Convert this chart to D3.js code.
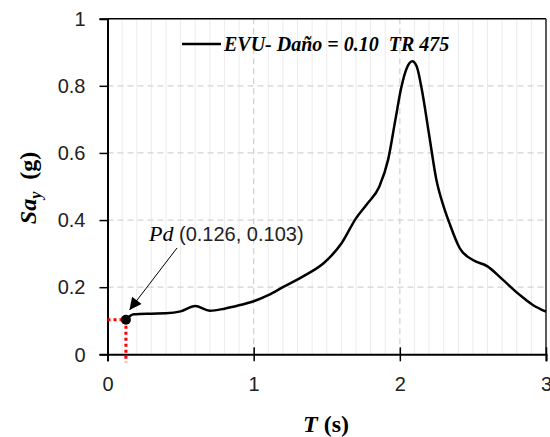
<!DOCTYPE html>
<html><head><meta charset="utf-8">
<script src="https://cdn.jsdelivr.net/npm/d3@7"></script>
<style>
html,body{margin:0;padding:0;background:#fff;}
svg{display:block;}
.sans{font-family:"Liberation Sans",Arial,sans-serif;}
.serif{font-family:"Liberation Serif","Times New Roman",serif;}
</style></head>
<body>
<svg id="chart" width="550" height="437"></svg>
<script>
const periods = [0.126, 0.18, 0.3, 0.4, 0.5, 0.6, 0.7, 0.8, 0.9, 1.0, 1.1, 1.2, 1.35, 1.48, 1.6, 1.7, 1.78, 1.86, 1.92, 1.97, 2.01, 2.05, 2.085, 2.115, 2.15, 2.2, 2.25, 2.3, 2.34, 2.41, 2.5, 2.6, 2.7, 2.82, 2.91, 3.0];
const saValues = [0.103, 0.119, 0.121, 0.122, 0.128, 0.144, 0.130, 0.136, 0.146, 0.158, 0.176, 0.200, 0.235, 0.272, 0.33, 0.405, 0.45, 0.50, 0.58, 0.70, 0.795, 0.855, 0.873, 0.858, 0.79, 0.655, 0.52, 0.44, 0.39, 0.316, 0.281, 0.262, 0.224, 0.177, 0.147, 0.127];
const xTicks = [0, 1, 2, 3];
const yTicks = [0, 0.2, 0.4, 0.6, 0.8, 1];
const pdPoint = [0.126, 0.103];
const legendLabel = "EVU- Daño = 0.10  TR 475";

const svg = d3.select("#chart");
const x = d3.scaleLinear().domain([0, 3]).range([107.5, 546]);
const y = d3.scaleLinear().domain([0, 1]).range([354.3, 18.7]);

// vertical minor gridlines
const minor = d3.range(1, 30).map(i => i / 10).filter(v => Math.abs(v - Math.round(v)) > 1e-6);
svg.append("g").selectAll("line").data(minor).join("line")
  .attr("x1", d => x(d)).attr("x2", d => x(d))
  .attr("y1", y(0)).attr("y2", y(1))
  .attr("stroke", "#ececec").attr("stroke-width", 1);
// vertical major dashed
svg.append("g").selectAll("line").data([1, 2]).join("line")
  .attr("x1", d => x(d)).attr("x2", d => x(d))
  .attr("y1", y(0)).attr("y2", y(1))
  .attr("stroke", "#d4d4d4").attr("stroke-width", 1.3).attr("stroke-dasharray", "6,4");
// horizontal dashed
svg.append("g").selectAll("line").data([0.2, 0.4, 0.6, 0.8]).join("line")
  .attr("x1", x(0)).attr("x2", x(3))
  .attr("y1", d => y(d)).attr("y2", d => y(d))
  .attr("stroke", "#d4d4d4").attr("stroke-width", 1.3).attr("stroke-dasharray", "6,4");

// frame top/right
svg.append("line").attr("x1", x(0)).attr("x2", x(3)).attr("y1", y(1)).attr("y2", y(1))
  .attr("stroke", "#000").attr("stroke-width", 1.5);
svg.append("line").attr("x1", x(3)).attr("x2", x(3)).attr("y1", y(1)).attr("y2", y(0))
  .attr("stroke", "#222").attr("stroke-width", 1.5);

// Y axis
const yAxis = svg.append("g").attr("transform", `translate(${x(0)},0)`)
  .call(d3.axisLeft(y).tickValues(yTicks).tickFormat(d3.format("")).tickSizeOuter(0).tickSize(8).tickPadding(14));
yAxis.attr("font-family", null).attr("font-size", null);
yAxis.select(".domain").attr("stroke-width", 2);
yAxis.selectAll(".tick line").attr("stroke-width", 1.5);
yAxis.selectAll("text").attr("class", "sans").attr("font-size", 20).attr("fill", "#222").attr("dy", "0.34em");

// X axis
const xAxis = svg.append("g").attr("transform", `translate(0,${y(0)})`)
  .call(d3.axisBottom(x).tickValues(xTicks).tickFormat(d3.format("")).tickSizeOuter(0).tickSize(7).tickPadding(16));
xAxis.attr("font-family", null).attr("font-size", null);
xAxis.select(".domain").attr("stroke-width", 2);
xAxis.selectAll(".tick line").attr("y1", -7).attr("stroke-width", 1.5);
xAxis.selectAll("text").attr("class", "sans").attr("font-size", 20).attr("fill", "#222");

// red dotted reference lines
svg.append("line").attr("x1", x(0)).attr("x2", x(pdPoint[0])).attr("y1", y(pdPoint[1])).attr("y2", y(pdPoint[1]))
  .attr("stroke", "#ff0000").attr("stroke-width", 3).attr("stroke-dasharray", "3,3");
svg.append("line").attr("x1", x(pdPoint[0])).attr("x2", x(pdPoint[0])).attr("y1", y(pdPoint[1])).attr("y2", y(0) + 8)
  .attr("stroke", "#ff0000").attr("stroke-width", 3).attr("stroke-dasharray", "3,3");

// curve
const line = d3.line().x((d, i) => x(periods[i])).y(d => y(d)).curve(d3.curveMonotoneX);
svg.append("path").attr("d", line(saValues)).attr("fill", "none")
  .attr("stroke", "#000").attr("stroke-width", 2.5).attr("stroke-linejoin", "round");

// Pd point
svg.append("circle").attr("cx", x(pdPoint[0])).attr("cy", y(pdPoint[1])).attr("r", 5).attr("fill", "#000");

// arrow
svg.append("defs").append("marker").attr("id", "ah").attr("viewBox", "0 0 10 10")
  .attr("refX", 10).attr("refY", 5).attr("markerWidth", 14).attr("markerHeight", 12)
  .attr("markerUnits", "userSpaceOnUse").attr("orient", "auto")
  .append("path").attr("d", "M0,0 L10,5 L0,10 Z").attr("fill", "#000");
svg.append("line").attr("x1", 177).attr("y1", 248).attr("x2", 129.5).attr("y2", 310)
  .attr("stroke", "#000").attr("stroke-width", 1).attr("marker-end", "url(#ah)");

// annotation text
const ann = svg.append("text").attr("x", 149).attr("y", 241).attr("font-size", 20);
ann.append("tspan").attr("class", "serif").attr("font-style", "italic").attr("font-size", 22).text("Pd");
ann.append("tspan").attr("class", "sans").attr("fill", "#222")
  .text(` (${pdPoint[0].toFixed(3)}, ${pdPoint[1].toFixed(3)})`);

// legend
svg.append("line").attr("x1", 182).attr("x2", 221).attr("y1", 44).attr("y2", 44)
  .attr("stroke", "#000").attr("stroke-width", 2.5);
svg.append("text").attr("class", "serif").attr("x", 224).attr("y", 51)
  .attr("font-weight", "bold").attr("font-style", "italic")
  .attr("font-size", 20).style("white-space", "pre").text(legendLabel);

// x title
const xt = svg.append("text").attr("class", "serif").attr("x", 326).attr("y", 432).attr("text-anchor", "middle")
  .attr("font-weight", "bold").attr("font-size", 24);
xt.append("tspan").attr("font-style", "italic").text("T");
xt.append("tspan").text(" (s)");

// y title
const yt = svg.append("text").attr("class", "serif").attr("transform", "translate(36,188) rotate(-90)").attr("text-anchor", "middle")
  .attr("font-weight", "bold").attr("font-size", 24).style("white-space", "pre");
yt.append("tspan").attr("font-style", "italic").text("Sa");
yt.append("tspan").attr("font-style", "italic").attr("font-size", 16).attr("dy", 5).text("y");
yt.append("tspan").attr("dy", -5).text("  (g)");
</script>
</body></html>
